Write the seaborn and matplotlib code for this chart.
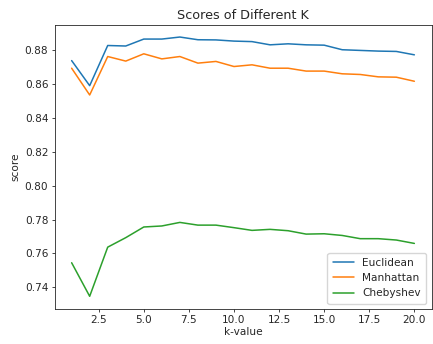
import numpy as np
import pandas as pd
import matplotlib
matplotlib.use("Agg")
import matplotlib.pyplot as plt
import seaborn as sns

# --- veriler ---
k_values = list(range(1, 21))
euclidean = [0.8738, 0.8590, 0.8827, 0.8824, 0.8865, 0.8865, 0.8877, 0.8861, 0.8860, 0.8853,
             0.8850, 0.8831, 0.8837, 0.8831, 0.8829, 0.8802, 0.8798, 0.8794, 0.8792, 0.8772]
manhattan = [0.8693, 0.8535, 0.8762, 0.8735, 0.8778, 0.8748, 0.8762, 0.8723, 0.8733, 0.8703,
             0.8713, 0.8693, 0.8693, 0.8676, 0.8676, 0.8660, 0.8656, 0.8642, 0.8640, 0.8616]
chebyshev = [0.7545, 0.7347, 0.7637, 0.7693, 0.7756, 0.7762, 0.7783, 0.7767, 0.7767, 0.7752,
             0.7736, 0.7742, 0.7734, 0.7714, 0.7716, 0.7706, 0.7687, 0.7687, 0.7679, 0.7659]
metrics = ["Euclidean", "Manhattan", "Chebyshev"]

df = pd.DataFrame({
    "k": k_values * 3,
    "score": euclidean + manhattan + chebyshev,
    "metric": [m for m in metrics for _ in k_values],
})

sns.set_style("ticks")
plt.rcParams["font.family"] = ["DejaVu Sans"]

fig = plt.figure(figsize=(4.33, 3.44), dpi=100)
ax = fig.add_axes([54.5 / 433, 1 - 309 / 344, (431.5 - 54.5) / 433, (309 - 25) / 344])
sns.lineplot(data=df, x="k", y="score", hue="metric", palette=["#1f77b4", "#ff7f0e", "#2ca02c"],
             linewidth=1.1, ax=ax)

ax.set_yticks(np.arange(0.74, 0.881, 0.02))
ax.set_ylim(0.7272, 0.8948)
ax.set_xlim(0.05, 20.95)
ax.tick_params(labelsize=7.6, length=2.5, width=0.6, pad=2)
for s in ax.spines.values():
    s.set_linewidth(0.6)
ax.set_title("Scores of Different K", fontsize=9.2, pad=4)
ax.set_xlabel("k-value", fontsize=7.6, labelpad=1)
ax.set_ylabel("score", fontsize=7.6, labelpad=3)
ax.legend(title=None, loc="lower right", fontsize=7.6, handlelength=2, borderpad=0.5)

plt.savefig("out.png", dpi=100)
